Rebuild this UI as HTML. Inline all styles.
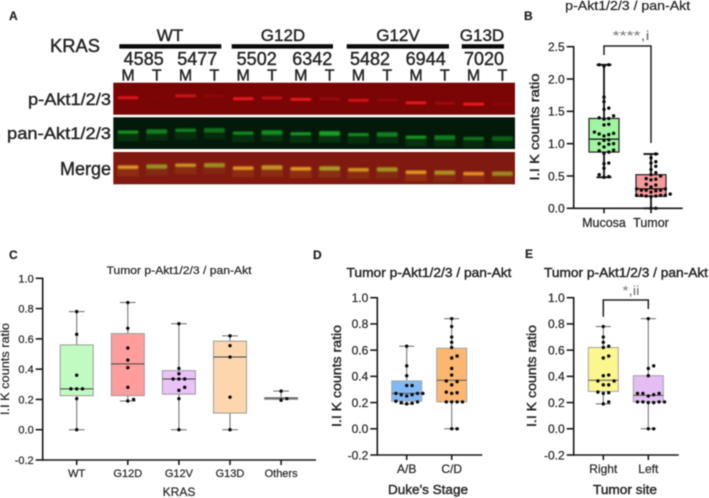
<!DOCTYPE html>
<html lang="en">
<head>
<meta charset="utf-8">
<title>Akt phosphorylation by KRAS status</title>
<style>
html,body{margin:0;padding:0;background:#fff;}
body{width:709px;height:498px;overflow:hidden;}
svg{display:block;filter:blur(0.4px);}
text{font-family:"Liberation Sans",sans-serif;fill:#262626;stroke:#262626;stroke-width:0.22px;}
text.heavy{stroke-width:0.42px;}
text.sig{fill:#707070;stroke:none;}
</style>
</head>
<body>
<svg id="figure" xmlns="http://www.w3.org/2000/svg" width="709" height="498" viewBox="0 0 709 498">
  <defs>
    <filter id="bandBlur" x="-30%" y="-150%" width="160%" height="400%"><feGaussianBlur stdDeviation="0.9"/></filter>
  </defs>
  <rect width="709" height="498" fill="#fff"/>

  <text x="9" y="20" font-size="12" font-weight="700">A</text>
  <text x="524" y="20" font-size="12" font-weight="700">B</text>
  <text x="9" y="259" font-size="12" font-weight="700">C</text>
  <text x="313" y="259" font-size="12" font-weight="700">D</text>
  <text x="525" y="258" font-size="12" font-weight="700">E</text>

  <text class="heavy" x="75" y="52" text-anchor="middle" font-size="18" textLength="50" lengthAdjust="spacingAndGlyphs">KRAS</text>
  <text class="heavy" x="170" y="41" text-anchor="middle" font-size="17">WT</text>
  <text class="heavy" x="283" y="41" text-anchor="middle" font-size="17">G12D</text>
  <text class="heavy" x="398" y="41" text-anchor="middle" font-size="17">G12V</text>
  <text class="heavy" x="482" y="41" text-anchor="middle" font-size="17">G13D</text>
  <rect x="119.3" y="44.2" width="102" height="4.4" fill="#0a0a0a"/>
  <rect x="231.7" y="44.2" width="101.3" height="4.4" fill="#0a0a0a"/>
  <rect x="346.7" y="44.2" width="102.3" height="4.4" fill="#0a0a0a"/>
  <rect x="461.7" y="44.2" width="42.3" height="4.4" fill="#0a0a0a"/>
  <text class="heavy" x="143.7" y="65" text-anchor="middle" font-size="18">4585</text>
  <text class="heavy" x="197.3" y="65" text-anchor="middle" font-size="18">5477</text>
  <text class="heavy" x="256.7" y="65" text-anchor="middle" font-size="18">5502</text>
  <text class="heavy" x="312.3" y="65" text-anchor="middle" font-size="18">6342</text>
  <text class="heavy" x="370" y="65" text-anchor="middle" font-size="18">5482</text>
  <text class="heavy" x="425.7" y="65" text-anchor="middle" font-size="18">6944</text>
  <text class="heavy" x="484" y="65" text-anchor="middle" font-size="18">7020</text>

  <text class="heavy" x="111" y="105" text-anchor="end" font-size="17" textLength="83" lengthAdjust="spacingAndGlyphs">p-Akt1/2/3</text>
  <text class="heavy" x="111" y="139" text-anchor="end" font-size="17" textLength="104" lengthAdjust="spacingAndGlyphs">pan-Akt1/2/3</text>
  <text class="heavy" x="111" y="175" text-anchor="end" font-size="18" textLength="51" lengthAdjust="spacingAndGlyphs">Merge</text>

  <g id="gel"></g>

  <text x="627.7" y="10" text-anchor="middle" font-size="12.5" textLength="125" lengthAdjust="spacingAndGlyphs">p-Akt1/2/3 / pan-Akt</text>
  <text class="heavy" transform="translate(539,127) rotate(-90)" text-anchor="middle" font-size="13" textLength="107" lengthAdjust="spacingAndGlyphs">I.I K counts ratio</text>
  <g id="panelB"></g>
  <path d="M604 55V46H651V143" fill="none" stroke="#222" stroke-width="1.5"/>
  <text class="sig" x="631" y="40" text-anchor="middle" font-size="13" textLength="37" lengthAdjust="spacingAndGlyphs">****,i</text>

  <text x="179" y="274" text-anchor="middle" font-size="11" textLength="145" lengthAdjust="spacingAndGlyphs">Tumor p-Akt1/2/3 / pan-Akt</text>
  <text transform="translate(9,369) rotate(-90)" text-anchor="middle" font-size="12" textLength="92" lengthAdjust="spacingAndGlyphs">I.I K counts ratio</text>
  <text x="179" y="496" text-anchor="middle" font-size="12">KRAS</text>
  <g id="panelC"></g>

  <text class="heavy" x="429" y="277" text-anchor="middle" font-size="13" textLength="165" lengthAdjust="spacingAndGlyphs">Tumor p-Akt1/2/3 / pan-Akt</text>
  <text class="heavy" transform="translate(341,376) rotate(-90)" text-anchor="middle" font-size="13" textLength="102" lengthAdjust="spacingAndGlyphs">I.I K counts ratio</text>
  <text class="heavy" x="428" y="494" text-anchor="middle" font-size="13" textLength="80" lengthAdjust="spacingAndGlyphs">Duke's Stage</text>
  <g id="panelD"></g>

  <text class="heavy" x="626" y="277" text-anchor="middle" font-size="13" textLength="164" lengthAdjust="spacingAndGlyphs">Tumor p-Akt1/2/3 / pan-Akt</text>
  <text class="heavy" transform="translate(536,376) rotate(-90)" text-anchor="middle" font-size="13" textLength="102" lengthAdjust="spacingAndGlyphs">I.I K counts ratio</text>
  <text class="heavy" x="625" y="494" text-anchor="middle" font-size="13" textLength="64" lengthAdjust="spacingAndGlyphs">Tumor site</text>
  <g id="panelE"></g>
  <path d="M603.3 316.7V300H648.3V309" fill="none" stroke="#222" stroke-width="1.5"/>
  <text class="sig" x="631" y="295" text-anchor="middle" font-size="13" textLength="17" lengthAdjust="spacingAndGlyphs">*,ii</text>
</svg>

<script>
// Western blot readings, one per lane (M then T for each of the seven samples)
const laneLabels = ['M','T','M','T','M','T','M','T','M','T','M','T','M','T'];
const pAktIntensity = [0.8,0.03,0.65,0.14,0.9,0.55,0.9,0.25,0.68,0.2,0.9,0.25,0.95,0.12];
const panAktIntensity = [0.7,0.6,0.62,0.5,0.65,0.68,0.72,0.8,0.65,0.6,0.72,0.58,0.55,0.42];
const bandMigration = [0.47,0.45,0.41,0.41,0.5,0.48,0.52,0.51,0.55,0.54,0.63,0.64,0.67,0.67];

// Panel B
const bCategories = ['Mucosa','Tumor'];
const bTicks = [0,0.5,1,1.5,2,2.5];
const bLow = [0.48,0];
const bQ1 = [0.87,0.185];
const bMedian = [1.07,0.3];
const bQ3 = [1.39,0.52];
const bHigh = [2.22,0.84];
const bFill = ['#a0f5a0','#f59a9a'];
const bPointsMucosa = [2.22,2.22,2.2,1.72,1.65,1.55,1.53,1.43,1.4,1.39,1.38,1.3,1.29,1.18,1.16,1.15,1.14,1.12,1.06,1.05,1,1,0.99,0.95,0.9,0.89,0.87,0.85,0.7,0.69,0.62,0.52,0.49,0.48];
const bPointsTumor = [0.84,0.78,0.72,0.7,0.65,0.6,0.55,0.52,0.5,0.46,0.45,0.44,0.37,0.36,0.33,0.3,0.3,0.28,0.28,0.28,0.27,0.25,0.22,0.2,0.2,0.2,0.2,0.19,0.19,0.18,0,0];

// Panel C
const cCategories = ['WT','G12D','G12V','G13D','Others'];
const ratioTicks = [-0.2,0,0.2,0.4,0.6,0.8,1];
const cLow = [0,0.19,0,0,0.2];
const cQ1 = [0.225,0.225,0.235,0.11,0.2];
const cMedian = [0.27,0.435,0.335,0.48,0.208];
const cQ3 = [0.56,0.635,0.39,0.585,0.212];
const cHigh = [0.78,0.84,0.7,0.62,0.255];
const cFill = ['#c2fbc2','#ff9d9d','#e9c2f6','#fdd6ad','#e5e5e5'];
const cPointsWT = [0,0.205,0.27,0.27,0.27,0.36,0.63,0.78];
const cPointsG12D = [0.19,0.2,0.28,0.41,0.46,0.54,0.67,0.84];
const cPointsG12V = [0,0.205,0.26,0.28,0.335,0.335,0.335,0.37,0.405,0.7];
const cPointsG13D = [0,0.215,0.48,0.555,0.62];
const cPointsOthers = [0.195,0.205,0.255];

// Panel D
const dCategories = ['A/B','C/D'];
const dLow = [0.19,0];
const dQ1 = [0.21,0.205];
const dMedian = [0.27,0.37];
const dQ3 = [0.365,0.615];
const dHigh = [0.63,0.84];
const dFill = ['#80baf6','#fbb670'];
const dPointsAB = [0.19,0.195,0.2,0.205,0.21,0.25,0.26,0.26,0.27,0.27,0.27,0.33,0.33,0.405,0.48,0.63];
const dPointsCD = [0,0,0.205,0.205,0.205,0.205,0.27,0.275,0.28,0.335,0.36,0.365,0.41,0.46,0.54,0.555,0.62,0.66,0.7,0.78,0.84];

// Panel E
const eCategories = ['Right','Left'];
const eLow = [0.19,0];
const eQ1 = [0.285,0.205];
const eMedian = [0.37,0.255];
const eQ3 = [0.62,0.405];
const eHigh = [0.78,0.84];
const eFill = ['#fbf68e','#e4bdf4'];
const ePointsRight = [0.19,0.205,0.27,0.275,0.28,0.335,0.335,0.365,0.365,0.405,0.41,0.54,0.555,0.62,0.63,0.66,0.7,0.78];
const ePointsLeft = [0,0,0.2,0.2,0.205,0.205,0.205,0.205,0.25,0.26,0.27,0.27,0.27,0.405,0.46,0.48,0.84];

const SVGNS = 'http://www.w3.org/2000/svg';

function mk(parent, tag, attrs) {
  const el = document.createElementNS(SVGNS, tag);
  for (const k in attrs) el.setAttribute(k, attrs[k]);
  parent.appendChild(el);
  return el;
}

function slug(s) {
  return String(s).toLowerCase().replace(/[^a-z0-9]+/g, '-');
}

// Lanes, bands and lane letters
(function drawGel() {
  const gel = document.getElementById('gel');
  const rows = [
    {name:'p-akt', top:82.7, height:32, bg:'#7a0505'},
    {name:'pan-akt', top:117.3, height:31.7, bg:'#03190a'},
    {name:'merge', top:152, height:32.3, bg:'#801a10'}
  ];
  const laneX = i => 128 + i * 28.8;
  laneLabels.forEach((lab, i) => {
    const t = mk(gel, 'text', {x: laneX(i), y: 80.5, 'text-anchor':'middle', 'font-size':16, 'class':'heavy'});
    
    
    t.textContent = lab;
  });
  rows.forEach(row => {
    const r = mk(gel, 'rect', {x:113.3, y:row.top, width:401.7, height:row.height, fill:row.bg});
    
    
    laneLabels.forEach((lab, i) => {
      const p = pAktIntensity[i], g = panAktIntensity[i];
      const y = row.top + bandMigration[i] * row.height;
      let fill, opacity, h;
      if (row.name === 'p-akt') { fill = '#ff1a24'; opacity = p; h = 2.8; }
      else if (row.name === 'pan-akt') { fill = '#1fc42a'; opacity = g; h = lab === 'M' ? 3.4 : 4.6; }
      else {
        fill = 'rgb(' + Math.round(150 + 95 * p) + ',' + Math.round(125 + 55 * g) + ',' + 35 + ')';
        opacity = 0.9;
        h = lab === 'M' ? 3.6 : 4.4;
      }
      if (row.name !== 'p-akt') {
        const under = mk(gel, 'rect', {x:laneX(i) - 11, y:y + 2, width:22, height:7, fill:fill, opacity:0.2 * g, filter:'url(#bandBlur)'});
        
        
      }
      const b = mk(gel, 'rect', {x:laneX(i) - 10.5, y:y - h / 2, width:21, height:h, rx:1.5, fill:fill, opacity:opacity, filter:'url(#bandBlur)'});
      
      
    });
  });
})();

// Spread tied values sideways, nearest free slot to the category centre
function swarm(values, step, minGap, yScale) {
  const placed = [];
  values.slice().sort((a, b) => a - b).forEach(v => {
    const y = yScale(v);
    let k = 0, off = 0;
    for (;;) {
      off = k === 0 ? 0 : (k % 2 ? 1 : -1) * Math.ceil(k / 2) * step;
      const o = off;
      if (!placed.some(p => Math.hypot(p.off - o, p.y - y) < minGap)) break;
      k++;
    }
    placed.push({off: off, y: y});
  });
  return placed;
}

function drawBoxPanel(o) {
  const g = document.getElementById(o.id);
  const y = v => o.y0 + (v - o.d0) * (o.y1 - o.y0) / (o.d1 - o.d0);
  const x = i => o.xFirst + i * o.xStep;

  o.categories.forEach((cat, i) => {
    const cx = x(i);
    const s = slug(cat);
    const wl = mk(g, 'line', {x1:cx, x2:cx, y1:y(o.low[i]), y2:y(o.high[i]), stroke:o.whiskerColor, 'stroke-width':o.whiskerWidth});
    
    
    [o.low[i], o.high[i]].forEach((v, j) => {
      const c = mk(g, 'line', {x1:cx - o.capW / 2, x2:cx + o.capW / 2, y1:y(v), y2:y(v), stroke:o.whiskerColor, 'stroke-width':o.whiskerWidth});
      
      
    });
    const box = mk(g, 'rect', {x:cx - o.boxW / 2, y:y(o.q3[i]), width:o.boxW, height:y(o.q1[i]) - y(o.q3[i]), fill:o.fill[i], stroke:o.boxStroke, 'stroke-width':o.boxStrokeWidth});
    
    
    const med = mk(g, 'line', {x1:cx - o.boxW / 2, x2:cx + o.boxW / 2, y1:y(o.median[i]), y2:y(o.median[i]), stroke:o.medianColor, 'stroke-width':o.medianWidth});
    
    
    swarm(o.points[i], o.swarmStep, o.swarmGap, y).forEach((p, j) => {
      const d = mk(g, 'circle', {cx:cx + p.off, cy:p.y, r:o.dotR, fill:'#0a0a0a'});
      
      
    });
    const tick = mk(g, 'line', {x1:cx, x2:cx, y1:o.y0, y2:o.y0 + 5, stroke:'#1a1a1a', 'stroke-width':o.axisWidth});
    
    
    const lab = mk(g, 'text', {x:cx, y:o.catY, 'text-anchor':'middle', 'font-size':o.catSize});
    
    
    lab.textContent = cat;
  });

  const ya = mk(g, 'line', {x1:o.axisX, x2:o.axisX, y1:y(o.d1) - 0.7, y2:o.y0 + 0.7, stroke:'#1a1a1a', 'stroke-width':o.axisWidth});
  
  
  const xa = mk(g, 'line', {x1:o.axisX, x2:o.axisEnd, y1:o.y0, y2:o.y0, stroke:'#1a1a1a', 'stroke-width':o.axisWidth});
  
  

  o.ticks.forEach(v => {
    const t = mk(g, 'line', {x1:o.axisX - 7, x2:o.axisX, y1:y(v), y2:y(v), stroke:'#1a1a1a', 'stroke-width':o.axisWidth});
    
    
    const l = mk(g, 'text', {x:o.axisX - 9, y:y(v) + o.tickSize * 0.36, 'text-anchor':'end', 'font-size':o.tickSize});
    
    
    l.textContent = v.toFixed(1);
  });
}

drawBoxPanel({
  id:'panelB', categories:bCategories, low:bLow, q1:bQ1, median:bMedian, q3:bQ3, high:bHigh, fill:bFill,
  points:[bPointsMucosa, bPointsTumor], ticks:bTicks,
  d0:0, d1:2.5, y0:208.3, y1:46.7, xFirst:604, xStep:47, axisX:573.7, axisEnd:682.7,
  boxW:30, capW:15, whiskerColor:'#1a1a1a', whiskerWidth:1.9, boxStroke:'#222', boxStrokeWidth:1.2,
  medianColor:'#111', medianWidth:1.2, dotR:1.7, swarmStep:4.8, swarmGap:4.4,
  axisWidth:1.6, tickSize:12, catSize:12.5, catY:227
});
drawBoxPanel({
  id:'panelC', categories:cCategories, low:cLow, q1:cQ1, median:cMedian, q3:cQ3, high:cHigh, fill:cFill,
  points:[cPointsWT, cPointsG12D, cPointsG12V, cPointsG13D, cPointsOthers], ticks:ratioTicks,
  d0:-0.2, d1:1, y0:460, y1:278.3, xFirst:76.7, xStep:51.1, axisX:42.7, axisEnd:316,
  boxW:33, capW:15.7, whiskerColor:'#6a6a6a', whiskerWidth:1, boxStroke:'#9a9a9a', boxStrokeWidth:1,
  medianColor:'#444', medianWidth:1, dotR:1.7, swarmStep:5.8, swarmGap:5,
  axisWidth:1.6, tickSize:11, catSize:11, catY:477
});
drawBoxPanel({
  id:'panelD', categories:dCategories, low:dLow, q1:dQ1, median:dMedian, q3:dQ3, high:dHigh, fill:dFill,
  points:[dPointsAB, dPointsCD], ticks:ratioTicks,
  d0:-0.2, d1:1, y0:455, y1:297.7, xFirst:406.7, xStep:45, axisX:377.3, axisEnd:482.3,
  boxW:30, capW:15, whiskerColor:'#6a6a6a', whiskerWidth:1, boxStroke:'#a5a5a5', boxStrokeWidth:1,
  medianColor:'#555', medianWidth:1, dotR:1.7, swarmStep:5.4, swarmGap:4.6,
  axisWidth:1.6, tickSize:12, catSize:12, catY:473
});
drawBoxPanel({
  id:'panelE', categories:eCategories, low:eLow, q1:eQ1, median:eMedian, q3:eQ3, high:eHigh, fill:eFill,
  points:[ePointsRight, ePointsLeft], ticks:ratioTicks,
  d0:-0.2, d1:1, y0:455, y1:297.7, xFirst:603.3, xStep:45, axisX:573.7, axisEnd:678.7,
  boxW:30, capW:15, whiskerColor:'#6a6a6a', whiskerWidth:1, boxStroke:'#a5a5a5', boxStrokeWidth:1,
  medianColor:'#555', medianWidth:1, dotR:1.7, swarmStep:5.4, swarmGap:4.6,
  axisWidth:1.6, tickSize:12, catSize:12, catY:473
});
</script>
</body>
</html>
